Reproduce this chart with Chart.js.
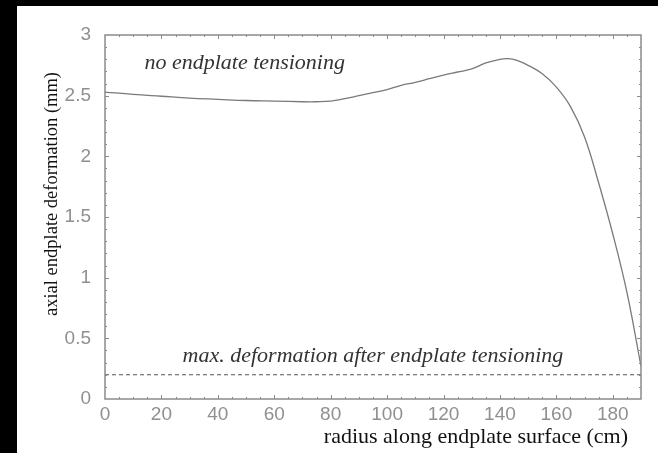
<!DOCTYPE html>
<html>
<head>
<meta charset="utf-8">
<script src="https://cdn.jsdelivr.net/npm/chart.js@4.4.0/dist/chart.umd.min.js"></script>
<style>
  html, body { margin: 0; padding: 0; background: #000; }
  #wrap { position: absolute; left: 17px; top: 6px; width: 641px; height: 447px; background: #fff; }
</style>
</head>
<body>
<div id="wrap"><canvas id="deformChart" width="641" height="447"></canvas></div>
<script>
// Endplate deformation vs radius

const radius = [0, 10, 20, 30, 40, 50, 60, 70, 75, 80, 85, 90, 95, 100, 105, 110, 115, 120, 125, 130, 135, 140, 143, 146, 150, 155, 160, 165, 170, 175, 180, 185, 190];
const deformation = [2.53, 2.51, 2.495, 2.48, 2.47, 2.46, 2.455, 2.45, 2.45, 2.455, 2.475, 2.50, 2.525, 2.55, 2.585, 2.61, 2.64, 2.67, 2.695, 2.72, 2.77, 2.80, 2.805, 2.79, 2.75, 2.68, 2.57, 2.41, 2.16, 1.78, 1.36, 0.88, 0.27];
const limitRange = [0, 190];
const limitValue = 0.2;

const xTicks = [0, 20, 40, 60, 80, 100, 120, 140, 160, 180];
const yTicks = [0, 0.5, 1, 1.5, 2, 2.5, 3];
const yTickLabels = ['0', '0.5', '1', '1.5', '2', '2.5', '3'];

const xTitle = 'radius along endplate surface (cm)';
const yTitle = 'axial endplate deformation (mm)';
const topNote = 'no endplate tensioning';
const bottomNote = 'max. deformation after endplate tensioning';

const tickFont = { family: 'Liberation Sans', size: 19 };
const tickColor = '#909090';
const frameColor = '#8a8a8a';

// frame with inward ticks, axis titles and notes
const framePlugin = {
    id: 'frame',
    afterDatasetsDraw(chart) {
        const ctx = chart.ctx;
        const a = chart.chartArea;
        const xs = chart.scales.x;
        const ys = chart.scales.y;
        ctx.save();
        ctx.strokeStyle = frameColor;
        ctx.lineWidth = 1.5;
        ctx.strokeRect(a.left, a.top, a.right - a.left, a.bottom - a.top);

        ctx.lineWidth = 1;
        ctx.beginPath();
        for (let v = 5; v < 190; v += 5) {
            const px = Math.round(xs.getPixelForValue(v)) + 0.5;
            const len = v % 20 === 0 ? 4 : 2;
            ctx.moveTo(px, a.bottom);
            ctx.lineTo(px, a.bottom - len);
            ctx.moveTo(px, a.top);
            ctx.lineTo(px, a.top + len);
        }
        for (let i = 1; i < 30; i++) {
            const py = Math.round(ys.getPixelForValue(i / 10)) + 0.5;
            const len = i % 5 === 0 ? 4 : 2;
            ctx.moveTo(a.left, py);
            ctx.lineTo(a.left + len, py);
            ctx.moveTo(a.right, py);
            ctx.lineTo(a.right - len, py);
        }
        ctx.stroke();

        // notes
        ctx.fillStyle = '#333';
        ctx.font = 'italic 22px "Liberation Serif"';
        ctx.textBaseline = 'middle';
        ctx.textAlign = 'left';
        ctx.fillText(topNote, xs.getPixelForValue(14), ys.getPixelForValue(2.77));
        ctx.fillText(bottomNote, xs.getPixelForValue(27.5), ys.getPixelForValue(0.35));

        // axis titles
        ctx.fillStyle = '#111';
        ctx.font = '22px "Liberation Serif"';
        ctx.textAlign = 'right';
        ctx.fillText(xTitle, 611, 431);
        ctx.font = '18.5px "Liberation Serif"';
        ctx.translate(35, 188);
        ctx.rotate(-Math.PI / 2);
        ctx.textAlign = 'center';
        ctx.fillText(yTitle, 0, 0);
        ctx.restore();
    }
};

const curvePoints = radius.map((r, i) => ({ x: r, y: deformation[i] }));
const limitPoints = limitRange.map(r => ({ x: r, y: limitValue }));

new Chart(document.getElementById('deformChart').getContext('2d'), {
    type: 'line',
    data: {
        datasets: [{
            label: 'no endplate tensioning',
            data: curvePoints,
            borderColor: '#7a7a7a',
            borderWidth: 1.3,
            pointRadius: 0,
            tension: 0.4,
            fill: false
        }, {
            label: 'max. deformation after endplate tensioning',
            data: limitPoints,
            borderColor: '#555',
            borderWidth: 1.2,
            borderDash: [4, 3],
            pointRadius: 0,
            fill: false
        }]
    },
    options: {
        responsive: false,
        animation: false,
        layout: {
            padding: { left: 0, top: 29, right: 17, bottom: 0 }
        },
        plugins: {
            legend: { display: false },
            tooltip: { enabled: false }
        },
        scales: {
            x: {
                type: 'linear',
                min: 0,
                max: 190,
                afterBuildTicks: scale => { scale.ticks = xTicks.map(v => ({ value: v })); },
                afterFit: scale => { scale.height = 54; },
                grid: { display: false, drawTicks: false },
                border: { display: false },
                ticks: {
                    padding: 4,
                    maxRotation: 0,
                    autoSkip: false,
                    font: tickFont,
                    color: tickColor
                }
            },
            y: {
                type: 'linear',
                min: 0,
                max: 3,
                afterBuildTicks: scale => { scale.ticks = yTicks.map(v => ({ value: v })); },
                afterFit: scale => { scale.width = 88; },
                grid: { display: false, drawTicks: false },
                border: { display: false },
                ticks: {
                    padding: 14,
                    autoSkip: false,
                    font: tickFont,
                    color: tickColor,
                    callback: (value, index) => yTickLabels[index]
                }
            }
        }
    },
    plugins: [framePlugin]
});
</script>
</body>
</html>
